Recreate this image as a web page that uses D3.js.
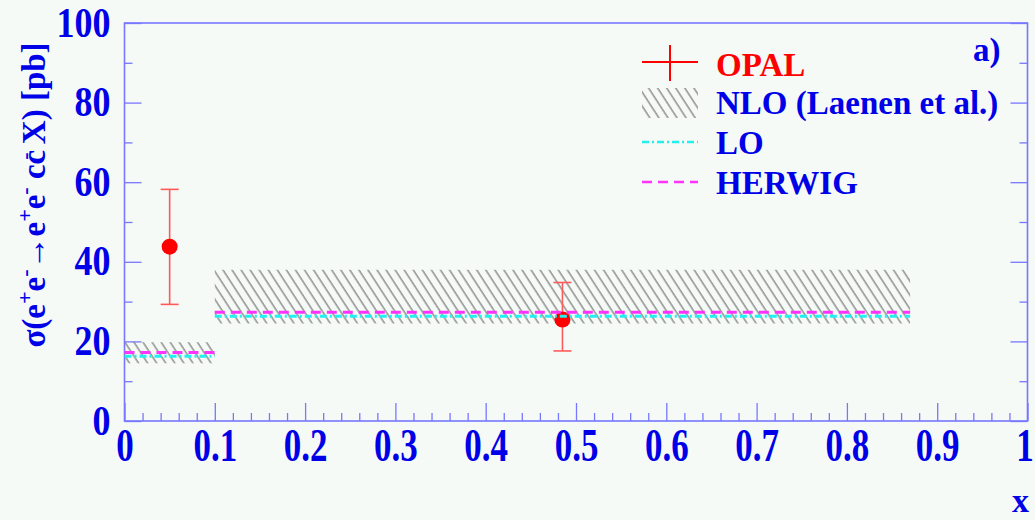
<!DOCTYPE html>
<html><head><meta charset="utf-8">
<script src="https://cdn.jsdelivr.net/npm/d3@7"></script>
<style>
html,body{margin:0;padding:0;background:#f6faf6;}
svg{display:block;}
text{font-family:"Liberation Serif","Times New Roman",serif;font-weight:bold;}
</style></head><body>
<svg id="chart" width="1035" height="520"></svg>
<script>
// Cross-section per x-bin: NLO band, LO and HERWIG predictions, OPAL measurement
const binEdges = [0, 0.1, 0.87];
const nloLow = [14.5, 24.5];
const nloHigh = [19.8, 38.0];
const loValues = [16.3, 26.3];
const herwigValues = [17.2, 27.3];
const opalX = [0.05, 0.485];
const opalY = [43.8, 25.5];
const opalErrUp = [14.4, 9.3];
const opalErrDown = [14.5, 7.9];

const xTickValues = [0, 0.1, 0.2, 0.3, 0.4, 0.5, 0.6, 0.7, 0.8, 0.9, 1];
const xTickLabels = ["0", "0.1", "0.2", "0.3", "0.4", "0.5", "0.6", "0.7", "0.8", "0.9", "1"];
const yTickValues = [0, 20, 40, 60, 80, 100];
const yTickLabels = ["0", "20", "40", "60", "80", "100"];
const legendLabels = ["OPAL", "NLO (Laenen et al.)", "LO", "HERWIG"];

const BLUE = "#0000e8", AXIS = "#7777ff", RED = "#ff0000", ERR = "#ff5a5a";
const CYAN = "#22f0f0", MAGENTA = "#ff33ff";

const svg = d3.select("#chart");
const x = d3.scaleLinear().domain([0, 1]).range([124.5, 1027.5]);
const y = d3.scaleLinear().domain([0, 100]).range([421, 23]);

// hatch pattern for the NLO band
const defs = svg.append("defs");
const pat = defs.append("pattern").attr("id", "hatch")
  .attr("patternUnits", "userSpaceOnUse").attr("width", 7.6).attr("height", 20)
  .attr("patternTransform", "rotate(-33)");
pat.append("line").attr("x1", 2).attr("x2", 2).attr("y1", 0).attr("y2", 20)
  .attr("stroke", "#6a6a6a").attr("stroke-width", 1.1);

const xMinor = d3.range(0, 51).map(i => i / 50).filter(v => Math.round(v * 50) % 5 !== 0);
const yMinor = [10, 30, 50, 70, 90];

// axes: inward ticks on the bottom, left and right edges
function styleAxis(g) {
  g.select(".domain").remove();
  g.selectAll(".tick line").attr("stroke", AXIS).attr("stroke-width", 1.3);
}
svg.append("g").attr("transform", `translate(0,${y(0)})`)
  .call(d3.axisBottom(x).tickValues(xMinor).tickSize(-8).tickFormat("")).call(styleAxis);
const xAxis = svg.append("g").attr("transform", `translate(0,${y(0)})`)
  .call(d3.axisBottom(x).tickValues(xTickValues).tickSize(-18).tickPadding(0)
    .tickFormat((d, i) => xTickLabels[i])).call(styleAxis);
xAxis.selectAll(".tick text").attr("fill", BLUE).attr("font-size", 35)
  .attr("dy", null).attr("y", 0).attr("x", (d, i) => i === xTickValues.length - 1 ? -3 : 0)
  .attr("transform", "translate(0,40) scale(1,1.3)")
  .attr("font-family", "Liberation Serif").attr("font-weight", "bold");

svg.append("g").attr("transform", `translate(${x(0)},0)`)
  .call(d3.axisLeft(y).tickValues(yMinor).tickSize(-8).tickFormat("")).call(styleAxis);
const yAxis = svg.append("g").attr("transform", `translate(${x(0)},0)`)
  .call(d3.axisLeft(y).tickValues(yTickValues).tickSize(-17).tickPadding(14)
    .tickFormat((d, i) => yTickLabels[i])).call(styleAxis);
yAxis.selectAll(".tick text").attr("fill", BLUE).attr("font-size", 36)
  .attr("dy", null).attr("x", -14).attr("y", 0)
  .attr("transform", "translate(0,13) scale(1,1.15)")
  .attr("font-family", "Liberation Serif").attr("font-weight", "bold");

svg.append("g").attr("transform", `translate(${x(1)},0)`)
  .call(d3.axisRight(y).tickValues(yMinor).tickSize(-8).tickFormat("")).call(styleAxis);
svg.append("g").attr("transform", `translate(${x(1)},0)`)
  .call(d3.axisRight(y).tickValues(yTickValues).tickSize(-17).tickFormat("")).call(styleAxis);

// frame
svg.append("rect").attr("x", x(0)).attr("y", y(100))
  .attr("width", x(1) - x(0)).attr("height", y(0) - y(100))
  .attr("fill", "none").attr("stroke", AXIS).attr("stroke-width", 1.6);

// NLO hatched band
const bins = d3.range(nloLow.length);
svg.append("g").selectAll("rect").data(bins).join("rect")
  .attr("x", i => x(binEdges[i])).attr("width", i => x(binEdges[i + 1]) - x(binEdges[i]))
  .attr("y", i => y(nloHigh[i])).attr("height", i => y(nloLow[i]) - y(nloHigh[i]))
  .attr("fill", "url(#hatch)");

// OPAL measurement
const pts = svg.append("g").selectAll("g").data(bins).join("g");
pts.append("line").attr("x1", i => x(opalX[i])).attr("x2", i => x(opalX[i]))
  .attr("y1", i => y(opalY[i] + opalErrUp[i])).attr("y2", i => y(opalY[i] - opalErrDown[i]))
  .attr("stroke", ERR).attr("stroke-width", 1.6);
[[opalErrUp, 1], [opalErrDown, -1]].forEach(([arr, s]) => {
  pts.append("line").attr("x1", i => x(opalX[i]) - 9).attr("x2", i => x(opalX[i]) + 9)
    .attr("y1", i => y(opalY[i] + s * arr[i])).attr("y2", i => y(opalY[i] + s * arr[i]))
    .attr("stroke", ERR).attr("stroke-width", 1.6);
});
pts.append("circle").attr("cx", i => x(opalX[i])).attr("cy", i => y(opalY[i]))
  .attr("r", 8).attr("fill", RED);

// LO and HERWIG lines per bin
svg.append("g").selectAll("line").data(bins).join("line")
  .attr("x1", i => x(binEdges[i])).attr("x2", i => x(binEdges[i + 1]))
  .attr("y1", i => y(loValues[i])).attr("y2", i => y(loValues[i]))
  .attr("stroke", CYAN).attr("stroke-width", 3).attr("stroke-dasharray", "7,3,2,3");
svg.append("g").selectAll("line").data(bins).join("line")
  .attr("x1", i => x(binEdges[i])).attr("x2", i => x(binEdges[i + 1]))
  .attr("y1", i => y(herwigValues[i])).attr("y2", i => y(herwigValues[i]))
  .attr("stroke", MAGENTA).attr("stroke-width", 3).attr("stroke-dasharray", "10,6");

// legend
const lg = svg.append("g");
const lx0 = 642, lx1 = 698, ltx = 716;
lg.append("line").attr("x1", lx0).attr("x2", lx1).attr("y1", 62).attr("y2", 62)
  .attr("stroke", RED).attr("stroke-width", 2);
lg.append("line").attr("x1", 670).attr("x2", 670).attr("y1", 45).attr("y2", 81)
  .attr("stroke", RED).attr("stroke-width", 2);
lg.append("rect").attr("x", lx0).attr("y", 88).attr("width", lx1 - lx0).attr("height", 30)
  .attr("fill", "url(#hatch)");
lg.append("line").attr("x1", lx0).attr("x2", lx1).attr("y1", 142).attr("y2", 142)
  .attr("stroke", CYAN).attr("stroke-width", 2.5).attr("stroke-dasharray", "7,3,2,3");
lg.append("line").attr("x1", lx0).attr("x2", lx1).attr("y1", 182).attr("y2", 182)
  .attr("stroke", MAGENTA).attr("stroke-width", 2.5).attr("stroke-dasharray", "10,6");
const legendBaselines = [75.5, 113.5, 154, 194];
lg.selectAll("text").data(legendLabels).join("text")
  .attr("x", ltx).attr("y", (d, i) => legendBaselines[i])
  .attr("font-size", 33).attr("fill", (d, i) => i === 0 ? RED : BLUE).text(d => d);

// panel tag
svg.append("text").attr("x", 973).attr("y", 61).attr("font-size", 33).attr("fill", BLUE).text("a)");

// axis titles
svg.append("text").attr("x", 1029).attr("y", 512).attr("text-anchor", "end")
  .attr("font-size", 34).attr("fill", BLUE).text("x");

const yt = svg.append("text").attr("transform", "translate(45,195) rotate(-90)")
  .attr("text-anchor", "middle").attr("font-size", 33).attr("fill", BLUE);
const sup = (t, dx) => yt.append("tspan").attr("font-size", 22).attr("dy", -13).attr("dx", dx || 0).text(t);
const base = t => yt.append("tspan").attr("dy", 13).text(t);
yt.append("tspan").text("σ(e");
sup("+"); base("e"); sup("-"); base("→e"); sup("+"); base("e"); sup("-");
base(" cc"); sup("-", -10); base(" X) [pb]");
</script>
</body></html>
